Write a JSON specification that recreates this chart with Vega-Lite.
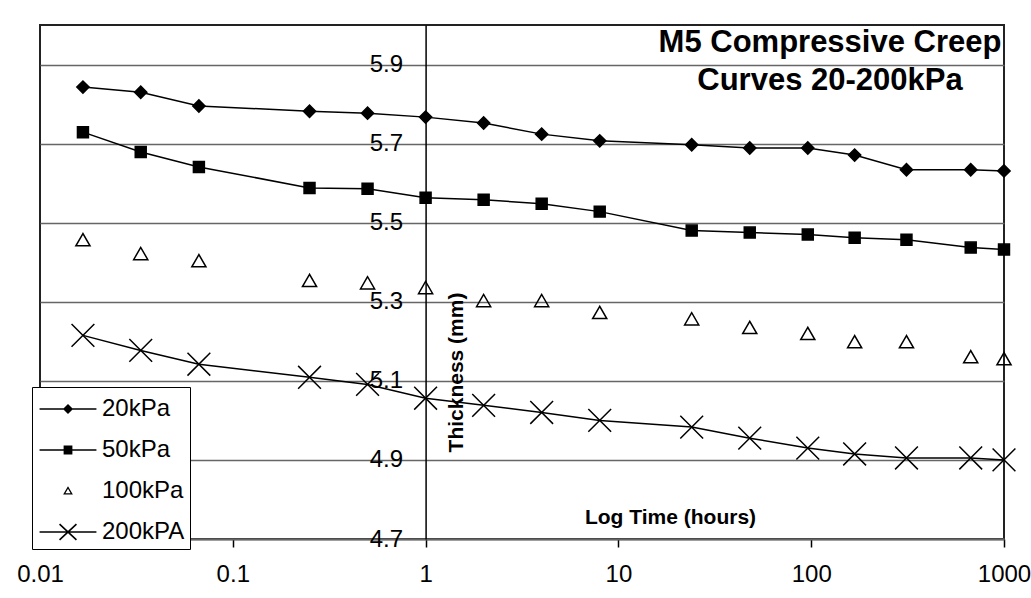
{
  "$schema": "https://vega.github.io/schema/vega-lite/v6.json",
  "width": 964,
  "height": 514,
  "autosize": {"type": "none"},
  "padding": {"left": 40, "top": 25, "right": 27, "bottom": 59},
  "background": "white",
  "config": {
    "font": "Liberation Sans",
    "view": {"stroke": "#222", "strokeWidth": 2}
  },
  "title": {
    "text": ["M5 Compressive Creep", "Curves 20-200kPa"],
    "orient": "top",
    "anchor": "start",
    "frame": "group",
    "align": "center",
    "baseline": "top",
    "dx": 790,
    "offset": -72,
    "fontSize": 31,
    "fontWeight": "bold",
    "font": "Liberation Sans",
    "color": "black",
    "lineHeight": 38
  },
  "data": {
    "values": [
      {"series": "20kPa", "t": 0.0167, "thk": 5.843},
      {"series": "20kPa", "t": 0.0333, "thk": 5.830},
      {"series": "20kPa", "t": 0.0667, "thk": 5.795},
      {"series": "20kPa", "t": 0.25, "thk": 5.782},
      {"series": "20kPa", "t": 0.5, "thk": 5.777},
      {"series": "20kPa", "t": 1, "thk": 5.767},
      {"series": "20kPa", "t": 2, "thk": 5.752},
      {"series": "20kPa", "t": 4, "thk": 5.724},
      {"series": "20kPa", "t": 8, "thk": 5.707},
      {"series": "20kPa", "t": 24, "thk": 5.697},
      {"series": "20kPa", "t": 48, "thk": 5.689},
      {"series": "20kPa", "t": 96, "thk": 5.689},
      {"series": "20kPa", "t": 168, "thk": 5.671},
      {"series": "20kPa", "t": 312, "thk": 5.634},
      {"series": "20kPa", "t": 672, "thk": 5.634},
      {"series": "20kPa", "t": 1000, "thk": 5.631},
      {"series": "50kPa", "t": 0.0167, "thk": 5.729},
      {"series": "50kPa", "t": 0.0333, "thk": 5.679},
      {"series": "50kPa", "t": 0.0667, "thk": 5.641},
      {"series": "50kPa", "t": 0.25, "thk": 5.588},
      {"series": "50kPa", "t": 0.5, "thk": 5.586},
      {"series": "50kPa", "t": 1, "thk": 5.563},
      {"series": "50kPa", "t": 2, "thk": 5.558},
      {"series": "50kPa", "t": 4, "thk": 5.548},
      {"series": "50kPa", "t": 8, "thk": 5.528},
      {"series": "50kPa", "t": 24, "thk": 5.480},
      {"series": "50kPa", "t": 48, "thk": 5.475},
      {"series": "50kPa", "t": 96, "thk": 5.470},
      {"series": "50kPa", "t": 168, "thk": 5.462},
      {"series": "50kPa", "t": 312, "thk": 5.457},
      {"series": "50kPa", "t": 672, "thk": 5.437},
      {"series": "50kPa", "t": 1000, "thk": 5.432},
      {"series": "100kPa", "t": 0.0167, "thk": 5.457},
      {"series": "100kPa", "t": 0.0333, "thk": 5.422},
      {"series": "100kPa", "t": 0.0667, "thk": 5.404},
      {"series": "100kPa", "t": 0.25, "thk": 5.354},
      {"series": "100kPa", "t": 0.5, "thk": 5.348},
      {"series": "100kPa", "t": 1, "thk": 5.336},
      {"series": "100kPa", "t": 2, "thk": 5.303},
      {"series": "100kPa", "t": 4, "thk": 5.303},
      {"series": "100kPa", "t": 8, "thk": 5.273},
      {"series": "100kPa", "t": 24, "thk": 5.257},
      {"series": "100kPa", "t": 48, "thk": 5.235},
      {"series": "100kPa", "t": 96, "thk": 5.220},
      {"series": "100kPa", "t": 168, "thk": 5.199},
      {"series": "100kPa", "t": 312, "thk": 5.199},
      {"series": "100kPa", "t": 672, "thk": 5.161},
      {"series": "100kPa", "t": 1000, "thk": 5.156},
      {"series": "200kPA", "t": 0.0167, "thk": 5.215},
      {"series": "200kPA", "t": 0.0333, "thk": 5.177},
      {"series": "200kPA", "t": 0.0667, "thk": 5.142},
      {"series": "200kPA", "t": 0.25, "thk": 5.109},
      {"series": "200kPA", "t": 0.5, "thk": 5.091},
      {"series": "200kPA", "t": 1, "thk": 5.056},
      {"series": "200kPA", "t": 2, "thk": 5.038},
      {"series": "200kPA", "t": 4, "thk": 5.020},
      {"series": "200kPA", "t": 8, "thk": 5.000},
      {"series": "200kPA", "t": 24, "thk": 4.983},
      {"series": "200kPA", "t": 48, "thk": 4.955},
      {"series": "200kPA", "t": 96, "thk": 4.930},
      {"series": "200kPA", "t": 168, "thk": 4.915},
      {"series": "200kPA", "t": 312, "thk": 4.905},
      {"series": "200kPA", "t": 672, "thk": 4.905},
      {"series": "200kPA", "t": 1000, "thk": 4.900}
    ]
  },
  "encoding": {
    "x": {
      "field": "t",
      "type": "quantitative",
      "scale": {"type": "log", "domain": [0.01, 1000], "nice": false},
      "axis": {
        "values": [0.01, 0.1, 1, 10, 100, 1000],
        "format": "~g",
        "labelFontSize": 24,
        "labelColor": "black",
        "labelFlush": false,
        "tickSize": 8,
        "tickColor": "black",
        "tickWidth": 1.5,
        "labelPadding": 15,
        "grid": false,
        "domain": true,
        "domainColor": "#666",
        "domainWidth": 2,
        "title": "Log Time (hours)",
        "titleFontSize": 21,
        "titleFontWeight": "bold",
        "titleColor": "black",
        "titleX": 630,
        "titleY": -16,
        "titleAlign": "center",
        "titleBaseline": "alphabetic"
      }
    },
    "y": {
      "field": "thk",
      "type": "quantitative",
      "scale": {"domain": [4.7, 6.0], "zero": false, "nice": false},
      "axis": {
        "values": [4.7, 4.9, 5.1, 5.3, 5.5, 5.7, 5.9],
        "format": ".1f",
        "offset": -385.6,
        "ticks": false,
        "labelPadding": 23,
        "labelFontSize": 24,
        "labelColor": "black",
        "domainColor": "black",
        "domainWidth": 1.5,
        "grid": true,
        "gridColor": "#666",
        "gridWidth": 1.5,
        "title": "Thickness (mm)",
        "titleX": 31,
        "titleY": 347,
        "titleAngle": -90,
        "titleAlign": "center",
        "titleBaseline": "middle",
        "titleFontSize": 21,
        "titleFontWeight": "bold",
        "titleColor": "black"
      }
    }
  },
  "layer": [
    {
      "transform": [{"filter": "datum.series !== '100kPa'"}],
      "mark": {"type": "line", "color": "black", "strokeWidth": 1.5},
      "encoding": {"detail": {"field": "series"}}
    },
    {
      "mark": {"type": "point", "stroke": "black", "strokeWidth": 1.5, "opacity": 1},
      "encoding": {
        "shape": {
          "field": "series",
          "type": "nominal",
          "scale": {
            "domain": ["20kPa", "50kPa", "100kPa", "200kPA"],
            "range": ["diamond", "square", "triangle-up", "M-1,-1L1,1M-1,1L1,-1"]
          },
          "legend": null
        },
        "fill": {
          "condition": {"test": "datum.series === '20kPa' || datum.series === '50kPa'", "value": "black"},
          "value": "transparent"
        },
        "size": {
          "condition": [
            {"test": "datum.series === '200kPA'", "value": 520},
            {"test": "datum.series === '100kPa'", "value": 200},
            {"test": "datum.series === '20kPa'", "value": 150}
          ],
          "value": 120
        }
      }
    },
    {
      "mark": {"type": "point", "opacity": 0, "filled": false, "color": "black", "fill": "black", "stroke": "black", "strokeWidth": 1.5, "size": 1056},
      "encoding": {
        "shape": {
          "field": "series",
          "type": "nominal",
          "scale": {
            "domain": ["20kPa", "50kPa", "100kPa", "200kPA"],
            "range": [
              "M-1.75,-0.05V0.05H1.75V-0.05ZM-0.31,0L0,0.31L0.31,0L0,-0.31Z",
              "M-1.75,-0.05V0.05H1.75V-0.05ZM-0.27,-0.27V0.27H0.27V-0.27Z",
              "M0,-0.3L-0.3,0.22L0.3,0.22ZM0,-0.14L0.161,0.14L-0.161,0.14Z",
              "M-1.75,-0.05V0.05H1.75V-0.05ZM-0.554,-0.443L0.486,0.517L0.554,0.443L-0.486,-0.517ZM-0.486,0.517L0.554,-0.443L0.486,-0.517L-0.554,0.443Z"
            ]
          },
          "legend": {
            "title": null,
            "orient": "none",
            "legendX": -8,
            "legendY": 362,
            "strokeColor": "black",
            "fillColor": "white",
            "padding": 5,
            "symbolSize": 1056,
            "symbolStrokeWidth": 1.5,
            "symbolOffset": 14,
            "symbolOpacity": 1,
            "symbolFillColor": "black",
            "symbolStrokeColor": "black",
            "labelOffset": 17,
            "labelFontSize": 24,
            "labelColor": "black",
            "rowPadding": 12
          }
        }
      }
    }
  ],
  "resolve": {"scale": {"shape": "independent"}, "legend": {"shape": "independent"}}
}
